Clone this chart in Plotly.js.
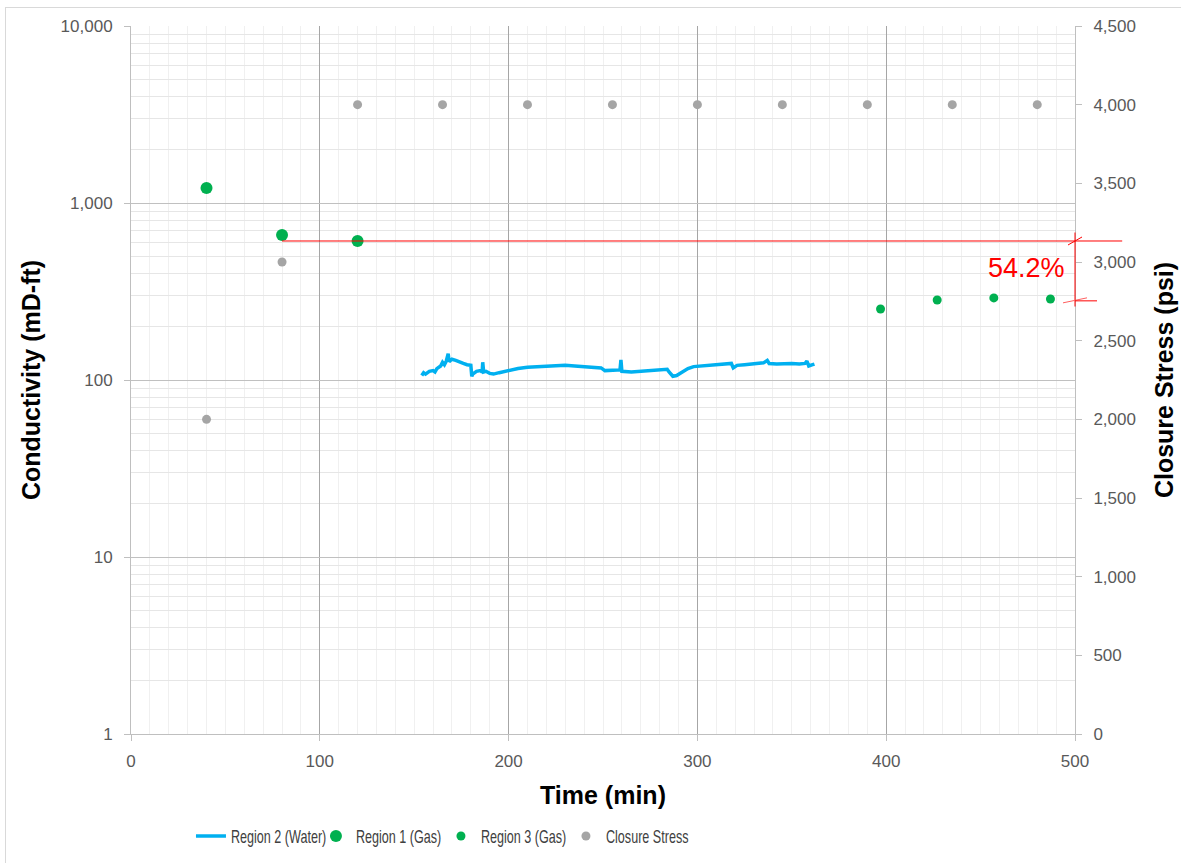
<!DOCTYPE html>
<html><head><meta charset="utf-8">
<script src="https://cdn.plot.ly/plotly-3.0.1.min.js"></script>
<style>
body{margin:0;background:#fff;}
#chart{position:absolute;left:0;top:0;width:1181px;height:863px;}
#frame{position:absolute;left:5px;top:7px;width:1300px;height:1000px;border:1px solid #D9D9D9;pointer-events:none;}
</style>
</head><body>
<div id="chart"></div><div id="frame"></div>
<script>
// ---- data ----
const waterTime = [154,155,156,158,160,161,162,164,165,166,167,168,168.5,170,172,174,176,178,180,180.5,181,183,185,186,186.3,186.8,188,190,192,195,198,201,205,210,215,220,225,230,235,240,245,249,251,255,259,259.5,260,265,270,275,280,284,285,287,289,291,293,295,298,302,306,310,315,318,319,321,325,330,335,337,338,342,346,350,354,357,358,359,361,362];
const waterCond = [106,110,108,112,113,111,116,120,126,122,128,141,127,131,129,126,124,122,121,105,108,112,113,111,126,111,112,109,108,110,112,114,116,118,119,120,121,121,120,119,118,117,113,113,114,130,112,111,112,113,114,115,111,105,106,109,112,116,119,120,122,123,124,124,117,121,122,124,125,129,124,123,124,124,123,124,128,120,122,123];

const region1Time = [40, 80, 120];
const region1Cond = [1216, 659, 610];

const region3Time = [397, 427, 457, 487];
const region3Cond = [252, 283, 291, 287];

const stressTime = [40, 80, 120, 165, 210, 255, 300, 345, 390, 435, 480];
const stressPsi  = [2000, 3000, 4000, 4000, 4000, 4000, 4000, 4000, 4000, 4000, 4000];

const xTickVals = [0, 100, 200, 300, 400, 500];
const xTickText = ['0', '100', '200', '300', '400', '500'];
const yTickVals = [1, 10, 100, 1000, 10000];
const yTickText = ['1', '10', '100', '1,000', '10,000'];
const y2TickVals = [0, 500, 1000, 1500, 2000, 2500, 3000, 3500, 4000, 4500];
const y2TickText = ['0', '500', '1,000', '1,500', '2,000', '2,500', '3,000', '3,500', '4,000', '4,500'];

// bracket annotation (54.2% reduction)
const bracketStartTime = 80;
const bracketEndTime = 525;
const bracketTime = 500;
const bracketTop = 610;
const bracketBottom = 280;
const bracketLabel = '54.2%';
const bracketLabelTime = 474.5;
const bracketLabelCond = 430;

// ---- helpers ----
const xMax = 500, yDecades = 4;
const xp = t => t / xMax;
const yp = v => Math.log10(v) / yDecades;

const FONT = 'Liberation Sans, Arial, sans-serif';

const traces = [
  {x: waterTime, y: waterCond, type: 'scatter', mode: 'lines', name: 'Region 2 (Water)',
   line: {color: '#00B0F0', width: 3.5}},
  {x: region1Time, y: region1Cond, type: 'scatter', mode: 'markers', name: 'Region 1 (Gas)',
   marker: {color: '#00B050', size: 12}},
  {x: region3Time, y: region3Cond, type: 'scatter', mode: 'markers', name: 'Region 3 (Gas)',
   marker: {color: '#00B050', size: 9}},
  {x: stressTime, y: stressPsi, type: 'scatter', mode: 'markers', name: 'Closure Stress',
   yaxis: 'y2', marker: {color: '#A5A5A5', size: 9}}
];

const red = '#FF0000';
const shapes = [
  {type: 'line', xref: 'paper', yref: 'paper', x0: xp(bracketStartTime), x1: xp(bracketEndTime),
   y0: yp(bracketTop), y1: yp(bracketTop), line: {color: red, width: 1}, layer: 'above'},
  {type: 'line', xref: 'paper', yref: 'paper', x0: xp(bracketTime), x1: xp(bracketTime),
   y0: yp(bracketTop) + 0.012, y1: yp(bracketBottom) - 0.008, line: {color: red, width: 1}},
  {type: 'line', xref: 'paper', yref: 'paper', xsizemode: 'pixel', ysizemode: 'pixel',
   xanchor: xp(bracketTime), yanchor: yp(bracketTop), x0: -7, x1: 7, y0: -4, y1: 4,
   line: {color: red, width: 1}},
  {type: 'line', xref: 'paper', yref: 'paper', xsizemode: 'pixel', ysizemode: 'pixel',
   xanchor: xp(bracketTime), yanchor: yp(bracketBottom), x0: -12, x1: 12, y0: -2, y1: 3,
   line: {color: '#FF6060', width: 1}},
  {type: 'line', xref: 'paper', yref: 'paper', xsizemode: 'pixel', ysizemode: 'pixel',
   xanchor: xp(bracketTime), yanchor: yp(bracketBottom), x0: 0, x1: 22, y0: 0, y1: 0,
   line: {color: red, width: 1}}
];

const layout = {
  width: 1181, height: 863,
  margin: {l: 131, r: 106, t: 26, b: 129, autoexpand: false},
  paper_bgcolor: 'rgba(0,0,0,0)', plot_bgcolor: '#fff',
  font: {family: FONT, size: 17, color: '#595959'},
  showlegend: true,
  legend: {orientation: 'h', xref: 'container', yref: 'container',
           x: 0.1617, xanchor: 'left', y: 0.031, yanchor: 'middle',
           font: {family: FONT, size: 18, color: '#404040'}, traceorder: 'normal',
           itemwidth: 30, entrywidth: 80, entrywidthmode: 'pixels'},
  xaxis: {
    automargin: false,
    range: [0, 500], tickmode: 'array', tickvals: xTickVals, ticktext: xTickText,
    showgrid: true, gridcolor: '#A6A6A6', gridwidth: 1, zeroline: false,
    minor: {dtick: 10, showgrid: true, gridcolor: '#F0F0F0', ticks: ''},
    showline: true, linecolor: '#BFBFBF', ticks: 'outside', ticklen: 6, tickcolor: '#BFBFBF',
    tickfont: {size: 17, color: '#595959'}, ticklabelstandoff: 6,
    title: {text: 'Time (min)', standoff: 16, font: {size: 25, color: '#000', weight: 'bold'}}
  },
  yaxis: {
    automargin: false,
    type: 'log', range: [0, 4], tickmode: 'array', tickvals: yTickVals, ticktext: yTickText,
    showgrid: true, gridcolor: '#C0C0C0', gridwidth: 1, zeroline: false,
    minor: {dtick: 'D1', showgrid: true, gridcolor: '#E6E6E6', ticks: ''},
    showline: true, linecolor: '#BFBFBF', ticks: 'outside', ticklen: 6, tickcolor: '#BFBFBF',
    tickfont: {size: 17, color: '#595959'}, ticklabelstandoff: 8,
    title: {text: 'Conductivity (mD-ft)', standoff: 12, font: {size: 25, color: '#000', weight: 'bold'}}
  },
  yaxis2: {
    automargin: false,
    overlaying: 'y', side: 'right', range: [0, 4500], tickmode: 'array',
    tickvals: y2TickVals, ticktext: y2TickText, showgrid: false, zeroline: false,
    showline: true, linecolor: '#BFBFBF', ticks: 'outside', ticklen: 6, tickcolor: '#BFBFBF',
    tickfont: {size: 17, color: '#595959'}, ticklabelstandoff: 8,
    title: {text: 'Closure Stress (psi)', standoff: 20, font: {size: 25, color: '#000', weight: 'bold'}}
  },
  shapes: shapes,
  annotations: [
    {xref: 'paper', yref: 'paper', x: xp(bracketLabelTime), y: yp(bracketLabelCond),
     text: bracketLabel, showarrow: false, font: {family: FONT, size: 27, color: red},
     xanchor: 'center', yanchor: 'middle'}
  ]
};

Plotly.newPlot('chart', traces, layout, {displayModeBar: false, staticPlot: true}).then(gd => {
  // condense legend labels horizontally (reference uses a narrow font)
  const s = 0.7;
  gd.querySelectorAll('.legendtext').forEach(t => {
    const x = parseFloat(t.getAttribute('x')) || 0;
    t.setAttribute('transform', `translate(${x * (1 - s)},0) scale(${s},1)`);
  });
});
</script>
</body></html>
